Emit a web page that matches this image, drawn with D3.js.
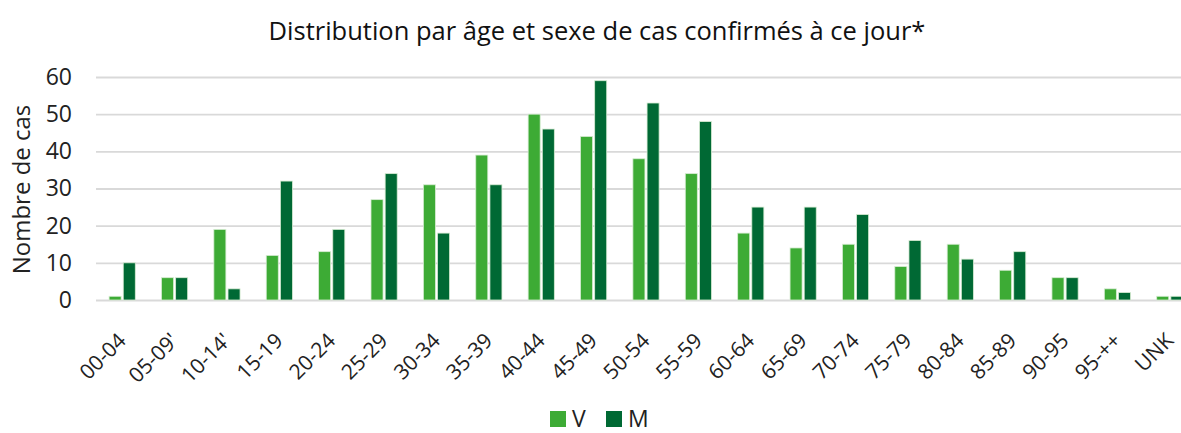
<!DOCTYPE html>
<html>
<head>
<meta charset="utf-8">
<script src="https://cdn.jsdelivr.net/npm/d3@7"></script>
<style>
  body { margin: 0; background: #fff; }
  svg { font-family: "Open Sans", "DejaVu Sans", sans-serif; display: block; }
</style>
</head>
<body>
<svg id="chart" width="1181" height="433"></svg>
<script>
// data
const ageGroups = ["00-04", "05-09'", "10-14'", "15-19", "20-24", "25-29", "30-34", "35-39", "40-44", "45-49",
  "50-54", "55-59", "60-64", "65-69", "70-74", "75-79", "80-84", "85-89", "90-95", "95-++", "UNK"];
const valuesV = [1, 6, 19, 12, 13, 27, 31, 39, 50, 44, 38, 34, 18, 14, 15, 9, 15, 8, 6, 3, 1];
const valuesM = [10, 6, 3, 32, 19, 34, 18, 31, 46, 59, 53, 48, 25, 25, 23, 16, 11, 13, 6, 2, 1];
const seriesNames = ["V", "M"];
const yTicks = [0, 10, 20, 30, 40, 50, 60];

const colors = { V: "#3dab35", M: "#006934" };

const display = {
  width: 1181,
  height: 433,
  margin: { top: 77, bottom: 133, left: 96, right: -15 }
};

const svg = d3.select("#chart");

const x = d3.scaleBand()
  .domain(ageGroups)
  .range([display.margin.left, display.width - display.margin.right])
  .paddingInner(0.5)
  .paddingOuter(0.25);

const xSeries = d3.scaleBand()
  .domain(seriesNames)
  .range([0, x.bandwidth()])
  .paddingInner(0.15);

const y = d3.scaleLinear()
  .domain([0, 60])
  .range([display.height - display.margin.bottom, display.margin.top]);

// title
svg.append("text")
  .attr("x", 597)
  .attr("y", 40)
  .attr("text-anchor", "middle")
  .attr("font-size", 25.5)
  .attr("fill", "#111")
  .text("Distribution par âge et sexe de cas confirmés à ce jour*");

// grid + y axis
const yAxis = g => g
  .attr("transform", `translate(${display.margin.left},0)`)
  .call(d3.axisLeft(y).tickValues(yTicks).tickSize(-(display.width - display.margin.left)).tickPadding(24))
  .call(g => g.select(".domain").remove())
  .call(g => g.selectAll(".tick line").attr("stroke", "#d9d9d9").attr("stroke-width", 1.8))
  .call(g => g.selectAll(".tick text").attr("font-size", 23).attr("fill", "#222")
    .attr("font-family", "Open Sans, sans-serif"));
svg.append("g").call(yAxis);

svg.append("text")
  .attr("transform", `translate(30, ${y(30) + 1}) rotate(-90)`)
  .attr("text-anchor", "middle")
  .attr("font-size", 24)
  .attr("fill", "#222")
  .text("Nombre de cas");

// bars
const groups = svg.append("g")
  .selectAll("g")
  .data(ageGroups)
  .join("g")
  .attr("transform", d => `translate(${x(d)},0)`);

groups.selectAll("rect")
  .data((d, i) => [{ key: "V", value: valuesV[i] }, { key: "M", value: valuesM[i] }])
  .join("rect")
  .attr("x", d => xSeries(d.key))
  .attr("y", d => y(d.value))
  .attr("width", xSeries.bandwidth())
  .attr("height", d => y(0) - y(d.value))
  .attr("fill", d => colors[d.key])
  .attr("stroke", "#d7ecd3")
  .attr("stroke-width", 0.8);

// x labels, rotated
svg.append("g")
  .selectAll("text")
  .data(ageGroups)
  .join("text")
  .attr("transform", d => `translate(${x(d) + x.bandwidth() / 2 + 5},${y(0) + 42}) rotate(-45)`)
  .attr("text-anchor", "end")
  .attr("font-size", 21)
  .attr("fill", "#222")
  .text(d => d);

// legend
const legend = svg.append("g").attr("transform", "translate(550, 411)");
const legendItems = legend.selectAll("g")
  .data(seriesNames)
  .join("g")
  .attr("transform", (d, i) => `translate(${i * 56},0)`);
legendItems.append("rect")
  .attr("width", 16)
  .attr("height", 16)
  .attr("fill", d => colors[d]);
legendItems.append("text")
  .attr("x", 22)
  .attr("y", 16)
  .attr("font-size", 23)
  .attr("fill", "#222")
  .text(d => d);
</script>
</body>
</html>
